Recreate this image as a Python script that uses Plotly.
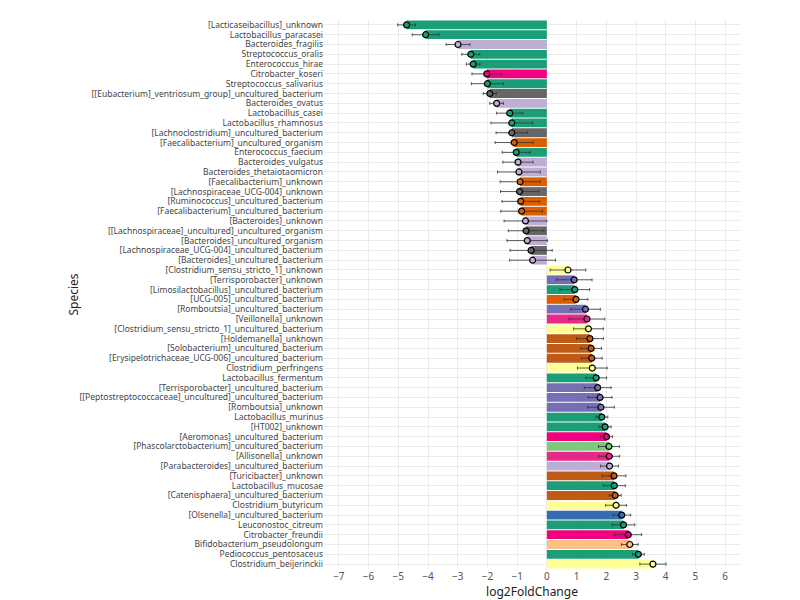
import plotly.graph_objects as go

species = [
    "[Lacticaseibacillus]_unknown", "Lactobacillus_paracasei", "Bacteroides_fragilis",
    "Streptococcus_oralis", "Enterococcus_hirae", "Citrobacter_koseri",
    "Streptococcus_salivarius", "[[Eubacterium]_ventriosum_group]_uncultured_bacterium",
    "Bacteroides_ovatus", "Lactobacillus_casei", "Lactobacillus_rhamnosus",
    "[Lachnoclostridium]_uncultured_bacterium", "[Faecalibacterium]_uncultured_organism",
    "Enterococcus_faecium", "Bacteroides_vulgatus", "Bacteroides_thetaiotaomicron",
    "[Faecalibacterium]_unknown", "[Lachnospiraceae_UCG-004]_unknown",
    "[Ruminococcus]_uncultured_bacterium", "[Faecalibacterium]_uncultured_bacterium",
    "[Bacteroides]_unknown", "[[Lachnospiraceae]_uncultured]_uncultured_organism",
    "[Bacteroides]_uncultured_organism", "[Lachnospiraceae_UCG-004]_uncultured_bacterium",
    "[Bacteroides]_uncultured_bacterium", "[Clostridium_sensu_stricto_1]_unknown",
    "[Terrisporobacter]_unknown", "[Limosilactobacillus]_uncultured_bacterium",
    "[UCG-005]_uncultured_bacterium", "[Romboutsia]_uncultured_bacterium",
    "[Veillonella]_unknown", "[Clostridium_sensu_stricto_1]_uncultured_bacterium",
    "[Holdemanella]_unknown", "[Solobacterium]_uncultured_bacterium",
    "[Erysipelotrichaceae_UCG-006]_uncultured_bacterium", "Clostridium_perfringens",
    "Lactobacillus_fermentum", "[Terrisporobacter]_uncultured_bacterium",
    "[[Peptostreptococcaceae]_uncultured]_uncultured_bacterium", "[Romboutsia]_unknown",
    "Lactobacillus_murinus", "[HT002]_unknown", "[Aeromonas]_uncultured_bacterium",
    "[Phascolarctobacterium]_uncultured_bacterium", "[Allisonella]_unknown",
    "[Parabacteroides]_uncultured_bacterium", "[Turicibacter]_unknown",
    "Lactobacillus_mucosae", "[Catenisphaera]_uncultured_bacterium",
    "Clostridium_butyricum", "[Olsenella]_uncultured_bacterium", "Leuconostoc_citreum",
    "Citrobacter_freundii", "Bifidobacterium_pseudolongum", "Pediococcus_pentosaceus",
    "Clostridium_beijerinckii",
]

log2fc = [
    -4.72, -4.08, -2.99, -2.56, -2.48, -2.02, -2.00, -1.92, -1.69, -1.25, -1.18,
    -1.18, -1.10, -1.03, -0.97, -0.94, -0.90, -0.92, -0.88, -0.85, -0.72, -0.70,
    -0.66, -0.53, -0.48, 0.71, 0.92, 0.94, 0.98, 1.30, 1.35, 1.40, 1.45, 1.49,
    1.51, 1.53, 1.66, 1.71, 1.79, 1.82, 1.85, 1.96, 2.01, 2.09, 2.10, 2.11, 2.26,
    2.27, 2.30, 2.33, 2.52, 2.58, 2.74, 2.79, 3.08, 3.57,
]

lfc_se = [
    0.30, 0.45, 0.40, 0.30, 0.23, 0.50, 0.54, 0.22, 0.23, 0.44, 0.70, 0.53, 0.64,
    0.47, 0.51, 0.72, 0.67, 0.64, 0.63, 0.70, 0.72, 0.60, 0.68, 0.71, 0.77, 0.60,
    0.60, 0.50, 0.40, 0.50, 0.60, 0.50, 0.45, 0.35, 0.35, 0.50, 0.35, 0.45, 0.40,
    0.45, 0.20, 0.20, 0.20, 0.35, 0.35, 0.30, 0.40, 0.37, 0.20, 0.35, 0.30, 0.38,
    0.45, 0.28, 0.20, 0.44,
]

genus = [
    "Lacticaseibacillus", "Lactobacillus", "Bacteroides", "Streptococcus", "Enterococcus",
    "Citrobacter", "Streptococcus", "Eubacterium", "Bacteroides", "Lactobacillus",
    "Lactobacillus", "Lachnoclostridium", "Faecalibacterium", "Enterococcus",
    "Bacteroides", "Bacteroides", "Faecalibacterium", "Lachnospiraceae", "Ruminococcus",
    "Faecalibacterium", "Bacteroides", "Lachnospiraceae", "Bacteroides",
    "Lachnospiraceae", "Bacteroides", "Clostridium", "Terrisporobacter",
    "Limosilactobacillus", "UCG-005", "Romboutsia", "Veillonella", "Clostridium",
    "Holdemanella", "Solobacterium", "Erysipelotrichaceae", "Clostridium",
    "Lactobacillus", "Terrisporobacter", "Peptostreptococcaceae", "Romboutsia",
    "Lactobacillus", "HT002", "Aeromonas", "Phascolarctobacterium", "Allisonella",
    "Parabacteroides", "Turicibacter", "Lactobacillus", "Catenisphaera", "Clostridium",
    "Olsenella", "Leuconostoc", "Citrobacter", "Bifidobacterium", "Pediococcus",
    "Clostridium",
]

genus_colors = {
    "Lacticaseibacillus": "#1b9e77", "Lactobacillus": "#1b9e77", "Streptococcus": "#1b9e77",
    "Enterococcus": "#1b9e77", "Limosilactobacillus": "#1b9e77", "HT002": "#1b9e77",
    "Leuconostoc": "#1b9e77", "Pediococcus": "#1b9e77",
    "Bacteroides": "#beaed4", "Parabacteroides": "#beaed4",
    "Citrobacter": "#f0027f", "Aeromonas": "#f0027f",
    "Veillonella": "#e7298a", "Allisonella": "#e7298a",
    "Eubacterium": "#666666", "Lachnoclostridium": "#666666", "Lachnospiraceae": "#666666",
    "Faecalibacterium": "#d95f02", "Ruminococcus": "#d95f02", "UCG-005": "#d95f02",
    "Clostridium": "#ffff99",
    "Terrisporobacter": "#7570b3", "Romboutsia": "#7570b3", "Peptostreptococcaceae": "#7570b3",
    "Holdemanella": "#bf5b17", "Solobacterium": "#bf5b17", "Erysipelotrichaceae": "#bf5b17",
    "Turicibacter": "#bf5b17", "Catenisphaera": "#bf5b17",
    "Phascolarctobacterium": "#7fc97f", "Olsenella": "#386cb0", "Bifidobacterium": "#fdc086",
}
colors = [genus_colors[g] for g in genus]

fig = go.Figure()
fig.add_trace(go.Bar(
    x=log2fc, y=species, orientation="h",
    marker=dict(color=colors, line=dict(width=0)),
    width=0.9, showlegend=False, hoverinfo="skip",
))
fig.add_trace(go.Scatter(
    x=log2fc, y=species, mode="markers",
    marker=dict(color=colors, size=6, line=dict(color="black", width=1.2)),
    error_x=dict(type="data", array=lfc_se, color="#333333", thickness=0.8, width=1.5),
    showlegend=False,
))

l, r = 316, 68
fig.update_layout(
    width=800, height=600,
    margin=dict(l=l, r=r, t=12, b=39),
    plot_bgcolor="white", paper_bgcolor="white",
    font=dict(family="Noto Sans", size=9, color="#444444"),
    xaxis=dict(
        range=[-7.5, 6.5], dtick=1, showgrid=True, gridcolor="#ebebeb",
        zeroline=False, automargin=False, tickfont=dict(size=10, color="#555555"),
        title=dict(text="log2FoldChange", font=dict(size=12, color="#222222"), standoff=4),
    ),
    yaxis=dict(
        type="category", categoryorder="array", categoryarray=species,
        range=[len(species) - 0.5, -0.5], tickmode="array", tickvals=species,
        showgrid=True, gridcolor="#ebebeb", tickfont=dict(size=8.5, color="#444444"),
        ticklen=0, automargin=False,
    ),
    annotations=[dict(
        text="Species", x=-(l - 65) / (800 - l - r), y=0.5, xref="paper", yref="paper",
        xanchor="center", showarrow=False, textangle=-90,
        font=dict(size=12, color="#222222"),
    )],
)

fig.write_html("out.html")
